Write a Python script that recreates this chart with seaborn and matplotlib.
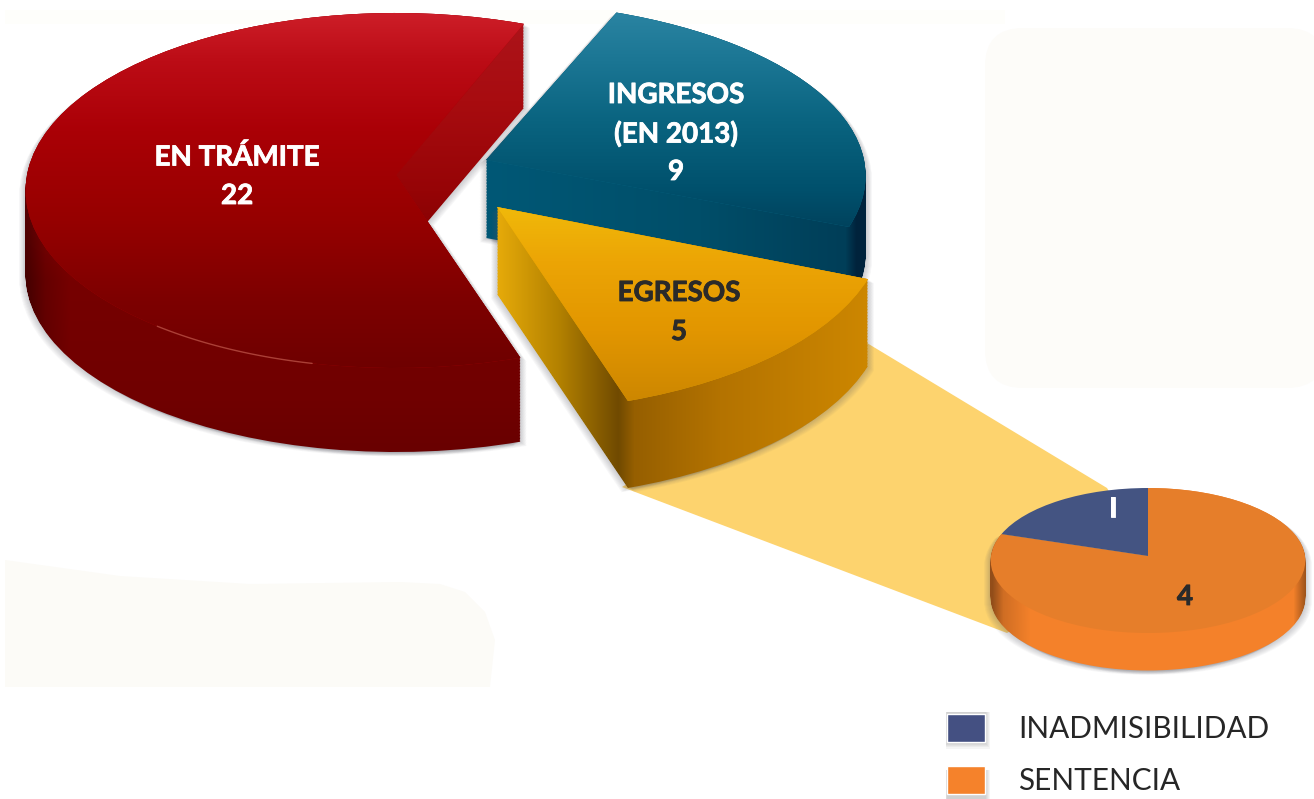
import numpy as np
import matplotlib
matplotlib.use("Agg")
import matplotlib.pyplot as plt
import matplotlib.patheffects as pe
import seaborn as sns
from matplotlib.path import Path
from matplotlib.patches import PathPatch, Polygon, Rectangle, FancyBboxPatch
from matplotlib.transforms import Transform, Affine2D

# ---------- data ----------
main_labels = ["EN TRÁMITE", "EGRESOS", "INGRESOS"]
main_values = [22, 5, 9]
detail_labels = ["INADMISIBILIDAD", "SENTENCIA"]
detail_values = [1, 4]

# ---------- style ----------
sns.set_theme(style="white")
plt.rcParams["font.family"] = ["Lato", "DejaVu Sans"]
W, H = 1314, 799
fig = plt.figure(figsize=(W / 100, H / 100), dpi=100, facecolor="white")
ax = fig.add_axes([0, 0, 1, 1])


class Perspective(Transform):
    """Unit-disc pie seen from above, tilted, in pixel space."""
    input_dims = output_dims = 2

    def __init__(self, cx, cy, rx, top, bottom):
        super().__init__()
        self.cx, self.cy, self.rx = cx, cy, rx
        self.k = (bottom - top) / (bottom + top)
        self.a = top * (1 + self.k)

    def transform_non_affine(self, v):
        v = np.asarray(v, float)
        w = 1 + self.k * v[:, 1]
        return np.column_stack((self.cx + self.rx * v[:, 0] / w,
                                self.cy - self.a * v[:, 1] / w))


def stops(pos, table):
    xs = [t[0] for t in table]
    return np.column_stack([np.interp(pos, xs, [t[1][i] for t in table]) for i in range(3)]) / 255


def gradient(box, axis_stops, axis="y", shade=None, zorder=1):
    x0, x1, y0, y1 = box
    xx, yy = np.arange(x0, x1), np.arange(y0, y1)
    if axis == "y":
        img = np.repeat(stops(yy, axis_stops)[:, None, :], len(xx), axis=1)
    else:
        img = np.repeat(stops(xx, axis_stops)[None, :, :], len(yy), axis=0)
    if shade is not None:
        img = img * np.interp(xx, [s[0] for s in shade], [s[1] for s in shade])[None, :, None]
    return ax.imshow(np.clip(img, 0, 1), extent=(x0, x1, y1, y0), aspect="auto",
                     zorder=zorder, interpolation="bilinear")


def pixel_path(wedge, tf):
    return tf.transform_path(wedge.get_patch_transform().transform_path(wedge.get_path()))


def silhouette(wedge, tf, depth):
    base = pixel_path(wedge, tf)
    steps = np.arange(0, depth + 0.01, 1.5)
    return Path.make_compound_path(*[Affine2D().translate(0, d).transform_path(base) for d in steps])


def extrude(wedge, tf, depth, box, side_stops, side_axis, shade, top_stops, z):
    sil = silhouette(wedge, tf, depth)
    for i in range(1, 8):
        for sx in (-1, 1):
            ax.add_patch(PathPatch(Affine2D().translate(sx * i * 0.9, i * 0.6).transform_path(sil),
                                   fc="#555560", ec="none", alpha=0.045, zorder=z))
    side = gradient(box, side_stops, side_axis, shade, zorder=z + 0.1)
    side.set_clip_path(sil, transform=ax.transData)
    wedge.set_transform(tf + ax.transData)
    wedge.set_edgecolor("none")
    wedge.set_zorder(z + 0.2)
    if top_stops is not None:
        top = gradient(box, top_stops, "y", None, zorder=z + 0.3)
        top.set_clip_path(pixel_path(wedge, tf), transform=ax.transData)


# ---------- pale background blobs ----------
ax.add_patch(Polygon([(5, 560), (120, 576), (250, 584), (400, 582), (440, 584), (465, 592), (485, 612),
                      (495, 640), (490, 687), (5, 687)], fc="#FCFBF7", ec="none", zorder=0))
ax.add_patch(FancyBboxPatch((985, 28), 340, 360, boxstyle="round,pad=0,rounding_size=38",
                            fc="#FDFCF9", ec="none", zorder=0))
ax.add_patch(Rectangle((5, 10), 1000, 14, fc="#FEFEFB", ec="none", zorder=0))

# ---------- connector band ----------
ax.add_patch(Polygon([(867, 343), (1107, 488), (1148, 556), (1007, 633), (622, 487)],
                     fc="#FDD36E", ec="none", zorder=1))

# ---------- main pie ----------
main_colors = sns.color_palette(["#A80006", "#E0A000", "#0A6A88"])
main_wedges, _ = ax.pie(main_values, startangle=68, colors=main_colors)

# INGRESOS
tf_blue = Perspective(486, 160, 378, 158, 190)
extrude(main_wedges[2], tf_blue, 78, (480, 875, 0, 345),
        [(485, (0, 88, 118)), (700, (0, 78, 105)), (845, (0, 62, 88)), (856, (0, 35, 60)), (875, (0, 35, 60))], "x", None,
        [(12, (42, 132, 162)), (60, (27, 118, 148)), (120, (10, 100, 128)), (190, (0, 80, 108)), (240, (0, 62, 88))], 2)

# EN TRÁMITE
tf_red = Perspective(396, 175, 369, 162, 193)
extrude(main_wedges[0], tf_red, 85, (20, 530, 10, 460),
        [(20, (172, 20, 26)), (100, (168, 12, 16)), (190, (150, 4, 6)), (280, (118, 0, 0)), (400, (112, 0, 0)), (450, (105, 0, 0))], "y",
        [(27, 0.6), (45, 0.85), (70, 1.0), (530, 1.0)],
        [(13, (205, 30, 40)), (60, (188, 12, 22)), (130, (170, 0, 6)), (220, (150, 0, 0)), (300, (125, 0, 0)), (370, (110, 0, 0))], 3)
arc = np.radians(np.linspace(233, 258, 40))
ax.plot(*tf_red.transform(np.column_stack((np.cos(arc), np.sin(arc)))).T,
        color="#C05A4E", lw=1, alpha=0.7, zorder=3.5)

# EGRESOS
tf_org = Perspective(497, 207, 386, 170, 205)
extrude(main_wedges[1], tf_org, 88, (490, 880, 200, 495),
        [(495, (232, 172, 10)), (560, (178, 128, 0)), (618, (112, 74, 0)), (634, (150, 95, 0)),
         (720, (180, 115, 0)), (870, (205, 135, 0))], "x", None,
        [(207, (240, 185, 10)), (260, (236, 165, 5)), (330, (226, 150, 0)), (400, (205, 135, 0))], 4)

# ---------- detail pie ----------
detail_colors = sns.color_palette(["#445482", "#E67E2A"])
detail_wedges, _ = ax.pie(detail_values, startangle=90, colors=detail_colors)
tf_small = Perspective(1148, 556, 157, 68, 77)
side_stops = [(540, (243, 128, 42)), (680, (245, 130, 42))]
extrude(detail_wedges[1], tf_small, 38, (985, 1312, 480, 680), side_stops, "y",
        [(992, 0.6), (1003, 0.85), (1030, 1.0), (1293, 1.0), (1305, 0.65)], None, 5)
detail_wedges[0].set_transform(tf_small + ax.transData)
detail_wedges[0].set_edgecolor("none")
detail_wedges[0].set_zorder(5.3)

# ---------- labels ----------
fs = 20
def label(x, y, s, color):
    ax.text(x, y, s, color=color, ha="center", va="center", fontweight="bold", fontsize=fs, zorder=8,
            path_effects=[pe.withStroke(linewidth=0.6, foreground=color)])

label(237, 157, main_labels[0], "white")
label(237, 196, str(main_values[0]), "white")
label(676, 95, main_labels[2], "white")
label(676, 134, "(EN 2013)", "white")
label(676, 172, str(main_values[2]), "white")
label(679, 293, main_labels[1], "#2A2A2A")
label(679, 332, str(main_values[1]), "#2A2A2A")
label(1113, 509, "I", "white")
label(1185, 597, str(detail_values[1]), "#2A2A2A")

# ---------- legend ----------
for y in (712, 770):
    for i in range(1, 6):
        ax.add_patch(Rectangle((947 - i * 0.3, y - i * 0.1), 38 + i * 1.2, 31 + i * 1.2,
                               fc="#555555", ec="none", alpha=0.06, zorder=6))
legend_handles = [Rectangle((0, 0), 1, 1, fc="#445082"), Rectangle((0, 0), 1, 1, fc="#F5822B")]
leg = ax.legend(legend_handles, detail_labels, loc="upper left", bbox_to_anchor=(947, 714),
                bbox_transform=ax.transData, frameon=False, fontsize=21.4, labelcolor="#262626",
                handlelength=1.29, handleheight=1.05, handletextpad=1.1, borderpad=0, borderaxespad=0,
                labelspacing=0.78)
leg.set_zorder(7)

ax.set_aspect("auto")
ax.set_xlim(0, W)
ax.set_ylim(H, 0)
ax.axis("off")
fig.savefig("out.png", dpi=100, facecolor="white")
